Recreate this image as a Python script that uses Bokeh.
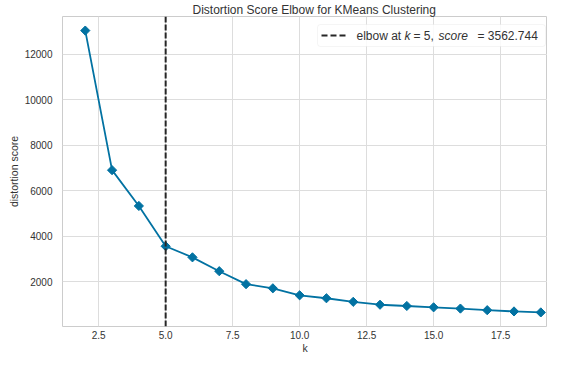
import numpy as np
from bokeh.plotting import figure
from bokeh.models import (Range1d, Span, BoxAnnotation, Label, Arrow,
                          FixedTicker, NumeralTickFormatter)
from bokeh.embed import file_html
from bokeh.resources import INLINE

# ---- data -------------------------------------------------------------
k_values = [2, 3, 4, 5, 6, 7, 8, 9, 10, 11, 12, 13, 14, 15, 16, 17, 18, 19]
distortion = [13050, 6910, 5335, 3562.744, 3075, 2465, 1895, 1712, 1405,
              1275, 1118, 990, 935, 876, 820, 750, 695, 652]
elbow_k = 5
elbow_score = 3562.744
x_ticks = [2.5, 5.0, 7.5, 10.0, 12.5, 15.0, 17.5]
y_ticks = [2000, 4000, 6000, 8000, 10000, 12000]

title_text = "Distortion Score Elbow for KMeans Clustering"
x_label = "k"
y_label = "distortion score"

FONT = "Liberation Sans"
TEXT = "#333333"
BLUE = "#0272a2"

FW, FH = 485, 310

# matplotlib-like 5% margins around the data
y_span = max(distortion) - min(distortion)
y_lo = min(distortion) - 0.05 * y_span
y_hi = max(distortion) + 0.05 * y_span
x_lo = min(k_values) - 0.05 * (max(k_values) - min(k_values))

p = figure(frame_width=FW, frame_height=FH, output_backend="svg",
           toolbar_location=None,
           x_range=Range1d(x_lo, 19.25), y_range=Range1d(y_lo, y_hi),
           min_border_left=62, min_border_right=0, min_border_top=0,
           min_border_bottom=0)

p.title.text = title_text
p.title.text_font = FONT
p.title.text_font_size = "12px"
p.title.text_font_style = "normal"
p.title.text_color = TEXT
p.title.align = "left"
p.title.standoff = 0
p.title.offset = 130

p.background_fill_color = "white"
p.border_fill_color = "white"
p.outline_line_color = "#cccccc"
p.outline_line_width = 1

for ax in (p.xaxis, p.yaxis):
    ax.axis_line_color = None
    ax.major_tick_line_color = None
    ax.minor_tick_line_color = None
    ax.major_tick_out = 0
    ax.major_tick_in = 0
    ax.minor_tick_out = 0
    ax.minor_tick_in = 0
    ax.major_label_text_font = FONT
    ax.major_label_text_font_size = "10px"
    ax.major_label_text_color = TEXT
    ax.axis_label_text_font = FONT
    ax.axis_label_text_font_size = "10.5px"
    ax.axis_label_text_font_style = "normal"
    ax.axis_label_text_color = TEXT

p.xaxis.ticker = FixedTicker(ticks=x_ticks)
p.xaxis.formatter = NumeralTickFormatter(format="0.0")
p.yaxis.ticker = FixedTicker(ticks=y_ticks)
p.xaxis.axis_label = x_label
p.yaxis.axis_label = y_label
p.xaxis.major_label_standoff = 4
p.xaxis.axis_label_standoff = 0
p.yaxis.major_label_standoff = 10
p.yaxis.axis_label_standoff = 2

p.xgrid.grid_line_color = "#dddddd"
p.ygrid.grid_line_color = "#dddddd"
p.xgrid.grid_line_width = 1
p.ygrid.grid_line_width = 1

# ---- data marks -------------------------------------------------------
p.line(k_values, distortion, line_color=BLUE, line_width=1.8)
p.scatter(k_values, distortion, marker="square", angle=np.pi / 4, size=6.5,
          fill_color=BLUE, line_color=BLUE)

elbow = Span(location=elbow_k, dimension="height", line_color="#262626",
             line_width=2, line_dash="6 2")
p.add_layout(elbow)

# ---- legend (screen units, relative to the frame) ---------------------
box = BoxAnnotation(left=FW - 230, right=FW - 2, bottom=FH - 30, top=FH - 8,
                    left_units="screen", right_units="screen",
                    bottom_units="screen", top_units="screen",
                    fill_color="white", fill_alpha=0.85,
                    line_color="#dddddd", line_width=1, border_radius=3)
p.add_layout(box)

LY = FH - 19
LX = FW - 230
leg_line = Arrow(end=None, x_start=LX + 4, y_start=LY, x_end=LX + 29, y_end=LY,
                 start_units="screen", end_units="screen",
                 line_color="#262626", line_width=2, line_dash="6 3")
p.add_layout(leg_line)

segments = [
    ("elbow at", 39, "normal"),
    ("k", 87, "italic"),
    ("= %d," % elbow_k, 96, "normal"),
    ("score", 121, "italic"),
    ("= %.3f" % elbow_score, 160, "normal"),
]
for txt, dx, style in segments:
    p.add_layout(Label(x=LX + dx, y=LY, x_units="screen", y_units="screen",
                       text=txt, text_font=FONT, text_font_size="12px",
                       text_font_style=style, text_color=TEXT,
                       text_baseline="middle", text_align="left"))

open("out.html", "w").write(file_html(p, INLINE))
